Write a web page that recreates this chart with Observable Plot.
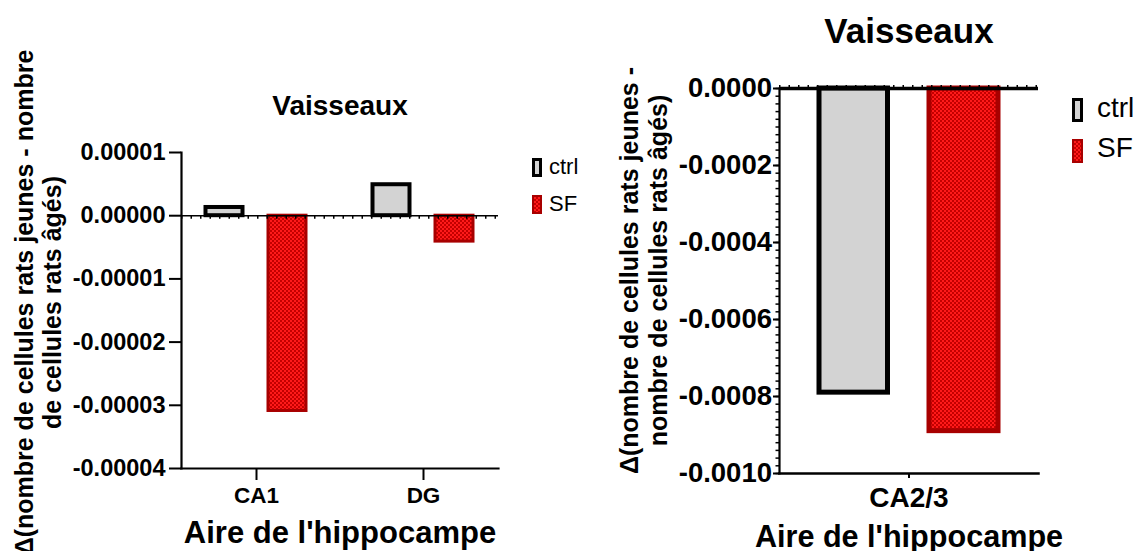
<!DOCTYPE html>
<html><head><meta charset="utf-8">
<script src="https://cdn.jsdelivr.net/npm/d3@7"></script>
<script src="https://cdn.jsdelivr.net/npm/@observablehq/plot@0.6"></script>
<style>
body{margin:0;background:#fff;overflow:hidden;font-family:"Liberation Sans",Arial,sans-serif;}
#wrap{position:relative;width:1142px;height:551px;overflow:hidden;background:#fff;}
#left,#right{position:absolute;top:0;}
#left{left:0;} #right{left:580px;}
.sw{position:absolute;box-sizing:border-box;}
.sw.ctrl{background:#d3d3d3;border:3px solid #000;}
.sw.sf{border:2px solid #a80000;background:repeating-conic-gradient(#c40000 0 25%, #ff1a1a 0 50%) 0 0/4px 4px;}
.lt{position:absolute;color:#000;white-space:nowrap;}
</style></head><body>
<svg width="0" height="0" style="position:absolute"><defs>
<pattern id="chk" patternUnits="userSpaceOnUse" width="4" height="4">
<rect width="4" height="4" fill="#ff1a1a"/><rect width="2" height="2" fill="#c40000"/><rect x="2" y="2" width="2" height="2" fill="#c40000"/>
</pattern></defs></svg>
<div id="wrap">
<div id="left"></div><div id="right"></div>
<div class="sw ctrl" style="left:532px;top:158px;width:10px;height:19px"></div>
<div class="lt" style="left:549px;top:154px;font-size:22px;line-height:26px">ctrl</div>
<div class="sw sf" style="left:532px;top:195px;width:10px;height:19px"></div>
<div class="lt" style="left:549px;top:191px;font-size:22px;line-height:26px">SF</div>
<div class="sw ctrl" style="left:1072px;top:98px;width:11px;height:24px;border-width:3.5px"></div>
<div class="lt" style="left:1097px;top:92px;font-size:28px;line-height:32px">ctrl</div>
<div class="sw sf" style="left:1072px;top:139px;width:11px;height:24px"></div>
<div class="lt" style="left:1097px;top:132px;font-size:28px;line-height:32px">SF</div>
</div>
<script>
const seriesNames = ["ctrl", "SF"];
const regionsLeft = ["CA1", "DG"];
const ctrlLeft = [0.0000013, 0.0000049];
const sfLeft = [-0.0000309, -0.0000041];
const yTicksLeft = [0.00001, 0, -0.00001, -0.00002, -0.00003, -0.00004];
const regionsRight = ["CA2/3"];
const ctrlRight = [-0.00079];
const sfRight = [-0.00089];
const yTicksRight = [0, -0.0002, -0.0004, -0.0006, -0.0008, -0.001];
const titleText = "Vaisseaux";
const xTitle = "Aire de l'hippocampe";
const yTitleLeft = "Δ(nombre de cellules rats jeunes - nombre\nde cellules rats âgés)";
const yTitleRight = "Δ(nombre de cellules rats jeunes -\nnombre de cellules rats âgés)";

function table(regions, ctrl, sf) {
  return regions.flatMap((r, i) => [
    {region: r, series: seriesNames[0], value: ctrl[i]},
    {region: r, series: seriesNames[1], value: sf[i]}
  ]);
}
const dataL = table(regionsLeft, ctrlLeft, sfLeft);
const dataR = table(regionsRight, ctrlRight, sfRight);
const FONT = '"Liberation Sans", Arial, sans-serif';
const CTRL_FILL = "#d3d3d3", SF_STROKE = "#a80000", SF_FILL = "url(#chk)";
const baseStyle = {fontFamily: FONT, fontWeight: "bold", background: "none", overflow: "visible", color: "#000"};
const T = {text: d => d, textAnchor: "middle", lineAnchor: "middle", fontWeight: "bold"};

const left = Plot.plot({
  width: 580, height: 551,
  marginLeft: 181, marginRight: 82, marginTop: 152, marginBottom: 83,
  style: baseStyle,
  x: {domain: regionsLeft, paddingInner: 0.113, paddingOuter: 0},
  y: {domain: [d3.min(yTicksLeft), d3.max(yTicksLeft)]},
  marks: [
    Plot.barY(dataL, {filter: d => d.series === "ctrl", x: "region", y: "value", fill: CTRL_FILL, stroke: "#000", strokeWidth: 4, insetLeft: 23.5, insetRight: 87.5}),
    Plot.barY(dataL, {filter: d => d.series === "SF", x: "region", y: "value", fill: SF_FILL, stroke: SF_STROKE, strokeWidth: 3, insetLeft: 86, insetRight: 24}),
    Plot.ruleY([0], {stroke: "#000", strokeWidth: 1.5}),
    Plot.ruleY([0], {stroke: "#000", strokeWidth: 3, strokeDasharray: "1.5 8", dy: 1.5}),
    Plot.frame({anchor: "left", strokeWidth: 2.2}),
    Plot.frame({anchor: "bottom", strokeWidth: 2.2}),
    Plot.axisY({ticks: yTicksLeft, tickFormat: d => d.toFixed(5), tickSize: 12, tickPadding: 4, strokeWidth: 2, fontSize: 23.5, fontWeight: "bold", label: null}),
    Plot.axisX({tickSize: 12, tickPadding: 7, strokeWidth: 2, fontSize: 22.5, fontWeight: "bold", label: null}),
    Plot.text([titleText], {...T, frameAnchor: "top", dy: -46, fontSize: 28}),
    Plot.text([xTitle], {...T, frameAnchor: "bottom", dy: 65, fontSize: 31}),
    Plot.text([yTitleLeft], {...T, frameAnchor: "left", rotate: -90, dx: -143, dy: -8, fontSize: 25, lineHeight: 1.12})
  ]
});
document.getElementById("left").append(left);

const right = Plot.plot({
  width: 562, height: 551,
  marginLeft: 199, marginRight: 104, marginTop: 88, marginBottom: 78,
  style: baseStyle,
  x: {domain: regionsRight, padding: 0},
  y: {domain: [d3.min(yTicksRight), d3.max(yTicksRight)]},
  marks: [
    Plot.barY(dataR, {filter: d => d.series === "ctrl", x: "region", y: "value", fill: CTRL_FILL, stroke: "#000", strokeWidth: 5, insetLeft: 40, insetRight: 150.5}),
    Plot.barY(dataR, {filter: d => d.series === "SF", x: "region", y: "value", fill: SF_FILL, stroke: SF_STROKE, strokeWidth: 5, insetLeft: 150, insetRight: 40}),
    Plot.frame({anchor: "left", strokeWidth: 2.2}),
    Plot.frame({anchor: "bottom", strokeWidth: 2.5}),
    Plot.ruleY([0], {stroke: "#000", strokeWidth: 3.5}),
    Plot.ruleY([0], {stroke: "#000", strokeWidth: 2, strokeDasharray: "1.5 8", dy: -2.5}),
    Plot.axisY({ticks: d3.ticks(d3.min(yTicksRight), d3.max(yTicksRight), 50), tickSize: 3.5, tickFormat: () => "", strokeWidth: 1.5, label: null}),
    Plot.axisY({ticks: yTicksRight, tickFormat: d => d.toFixed(4), tickSize: 6, tickPadding: 1.5, strokeWidth: 2, fontSize: 27.5, fontWeight: "bold", label: null}),
    Plot.axisX({tickSize: 5, tickPadding: 9, strokeWidth: 2, fontSize: 28, fontWeight: "bold", label: null}),
    Plot.text([titleText], {...T, frameAnchor: "top", dy: -57, fontSize: 35}),
    Plot.text([xTitle], {...T, frameAnchor: "bottom", dy: 64, fontSize: 30.6}),
    Plot.text([yTitleRight], {...T, frameAnchor: "left", rotate: -90, dx: -136, dy: -10.5, fontSize: 25, lineHeight: 1.15})
  ]
});
document.getElementById("right").append(right);
</script>
</body></html>
